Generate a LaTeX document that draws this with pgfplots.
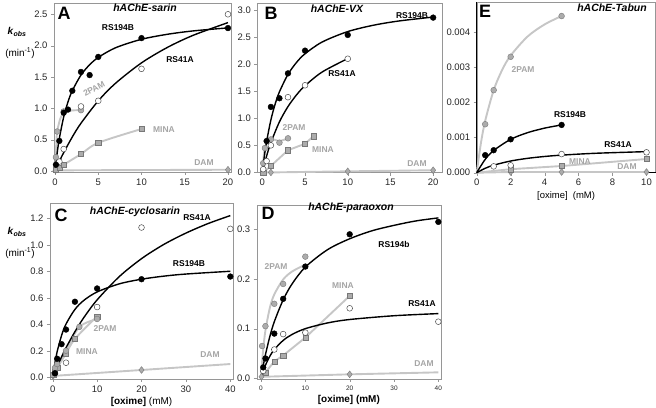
\documentclass[border=0pt]{standalone}
\usepackage{fontspec}
\setmainfont{Liberation Sans}
\usepackage{pgfplots}
\pgfplotsset{compat=1.18}
\definecolor{lgray}{RGB}{198,198,198}
\definecolor{mgray}{RGB}{172,172,172}
\definecolor{dgray}{RGB}{120,120,120}
\definecolor{tgray}{RGB}{165,165,165}
\definecolor{fgray}{RGB}{150,150,150}
\pgfplotsset{
  panel/.style={scale only axis, clip=false, axis line style={fgray},
    tick align=outside, major tick length=3bp, tick style={fgray},
    xtick pos=bottom, ytick pos=left,
    tick label style={font=\fontsize{9.5}{10}\selectfont, text=black!85},
    /pgf/number format/assume math mode=true,
    scaled y ticks=false},
  fitline/.style={black, line width=1.4bp, smooth, mark=none},
  grayline/.style={lgray, line width=1.9bp, mark=none},
  filled/.style={only marks, mark=*, mark size=2.9bp, mark options={fill=black, draw=black}},
  open/.style={only marks, mark=*, mark size=2.9bp, mark options={fill=white, draw=black!70, line width=0.5bp}},
  graycirc/.style={only marks, mark=*, mark size=2.9bp, mark options={fill=mgray, draw=dgray, line width=0.4bp}},
  graysq/.style={only marks, mark=square*, mark size=2.6bp, mark options={fill=mgray, draw=dgray, line width=0.4bp}},
  graydia/.style={only marks, mark=diamond*, mark size=3.4bp, mark options={fill=mgray, draw=dgray, line width=0.4bp}},
}
\tikzset{
  blab/.style={font=\fontsize{8.5}{9}\selectfont\bfseries, text=black},
  glab/.style={font=\fontsize{8.5}{9}\selectfont\bfseries, text=tgray},
  ttl/.style={font=\fontsize{10.5}{11}\selectfont\bfseries\itshape},
  let/.style={font=\fontsize{18}{18}\selectfont\bfseries},
}
\begin{document}
\begin{tikzpicture}
\path[use as bounding box] (0bp,0bp) rectangle (656bp,408bp);

% ---------------- Panel A: sarin ----------------
\begin{axis}[panel, at={(54bp,236bp)}, anchor=south west, width=177bp, height=169bp,
  xmin=-0.12, xmax=20.35, ymin=-0.016, ymax=2.68,
  xtick={0,5,10,15,20}, ytick={0,0.5,1,1.5,2,2.5},
  yticklabel style={/pgf/number format/.cd, fixed, fixed zerofill, precision=1}]
\addplot[grayline] coordinates {(0,0.01) (20,0.02)};
\addplot[grayline, smooth] coordinates {(0.1,0.22) (0.25,0.63) (1,0.93) (3,0.97)};
\addplot[grayline, smooth] coordinates {(0.1,0.02) (0.5,0.05) (1,0.1) (3,0.27) (5,0.45) (10,0.67)};
\addplot[graydia] coordinates {(0.05,0.01) (20,0.02)};
\addplot[graysq] coordinates {(0.1,0.02) (0.5,0.05) (1,0.1) (3,0.27) (5,0.45) (10,0.67)};
\addplot[graycirc] coordinates {(0.1,0.22) (0.25,0.63) (1,0.95) (3,0.97)};
\addplot[fitline] coordinates {(0,0) (0.5,0.153) (1,0.293) (2,0.544) (3,0.762) (5,1.119) (7,1.400) (10,1.725) (13,1.972) (16,2.166) (20,2.367)};
\addplot[fitline] coordinates {(0,0) (0.25,0.291) (0.5,0.521) (1,0.862) (1.5,1.103) (2,1.282) (3,1.531) (4,1.695) (5,1.812) (7,1.966) (10,2.101) (13,2.181) (16,2.235) (20,2.283)};
\addplot[open] coordinates {(0.5,0.15) (1,0.35) (3,1.03) (5,1.12) (10,1.63) (20,2.5)};
\addplot[filled] coordinates {(0.1,0.1) (0.5,0.48) (1,0.93) (1.5,0.98) (2,1.28) (3,1.58) (4,1.53) (5,1.82) (10,2.12) (20,2.28)};
\end{axis}

% ---------------- Panel B: VX ----------------
\begin{axis}[panel, at={(257.3bp,235.3bp)}, anchor=south west, width=184.4bp, height=169.7bp,
  xmin=-0.59, xmax=21.0, ymin=-0.005, ymax=3.13,
  xtick={0,5,10,15,20}, ytick={0,0.5,1,1.5,2,2.5,3},
  yticklabel style={/pgf/number format/.cd, fixed, fixed zerofill, precision=1}]
\addplot[grayline] coordinates {(0.1,0.0) (1,0.0) (10,0.02) (20,0.04)};
\addplot[grayline, smooth] coordinates {(0.1,0.17) (0.3,0.45) (1,0.61) (2,0.58) (3,0.63)};
\addplot[grayline] coordinates {(0.1,0.0) (1,0.12) (3,0.41) (5,0.53) (6,0.67)};
\addplot[graydia] coordinates {(0.1,0.0) (1,0.0) (10,0.02) (20,0.04)};
\addplot[graysq] coordinates {(0.1,0.0) (1,0.12) (3,0.41) (5,0.53) (6,0.67)};
\addplot[graycirc] coordinates {(0.1,0.17) (0.3,0.45) (1,0.61) (2,0.55) (3,0.63)};
\addplot[fitline] coordinates {(0,0) (0.5,0.303) (1,0.551) (2,0.934) (3,1.216) (4,1.432) (5,1.602) (7,1.855) (10,2.103)};
\addplot[fitline] coordinates {(0,0) (0.25,0.314) (0.5,0.571) (1,0.970) (1.5,1.263) (2,1.488) (3,1.811) (4,2.032) (5,2.192) (7,2.409) (10,2.602) (13,2.719) (16,2.798) (20,2.870)};
\addplot[open] coordinates {(0.1,0.06) (0.5,0.21) (1,0.5) (3,1.39) (5,1.61) (10,2.1)};
\addplot[filled] coordinates {(0.5,0.58) (1,1.21) (2,1.37) (3,1.83) (5,2.25) (10,2.54) (20,2.86)};
\end{axis}

% ---------------- Panel E: Tabun ----------------
\begin{axis}[panel, at={(476.7bp,235.3bp)}, anchor=south west, width=178.8bp, height=170.7bp,
  xmin=0, xmax=10.53, ymin=0, ymax=0.00486,
  xtick={0,2,4,6,8,10}, ytick={0,0.001,0.002,0.003,0.004},
  yticklabel style={/pgf/number format/.cd, fixed, fixed zerofill, precision=3},
  xlabel={[oxime]\ \ (mM)},
  xlabel style={at={(axis description cs:0.5,0)}, anchor=north, yshift=-15bp, font=\fontsize{9.5}{10}\selectfont}]
\draw[black, line width=0.6bp] (rel axis cs:0,1) -- (rel axis cs:0,0) -- (rel axis cs:1,0);
\addplot[grayline] coordinates {(0,0) (2,0.00002) (5,0.00002) (10,0.00002)};
\addplot[grayline] coordinates {(0,0) (2,0.0001) (5,0.00019) (10,0.00039)};
\addplot[grayline, smooth] coordinates {(0,0) (0.25,0.000847) (0.5,0.001477) (1,0.00235) (1.5,0.002927) (2,0.003336) (3,0.003879) (4,0.004222) (5,0.00446)};
\addplot[graydia] coordinates {(2,0.00002) (5,0.00002) (10,0.00002)};
\addplot[graysq] coordinates {(2,0.0001) (5,0.00019) (10,0.00039)};
\addplot[graycirc] coordinates {(0.5,0.00138) (1,0.00235) (2,0.0033) (5,0.00446)};
\addplot[fitline] coordinates {(0,0) (0.5,0.000125) (1,0.000214) (2,0.000333) (3,0.000409) (4,0.000462) (5,0.0005) (7,0.000553) (10,0.0006)};
\addplot[fitline] coordinates {(0,0) (0.5,0.000379) (1,0.000632) (2,0.00095) (3,0.001141) (4,0.001269) (5,0.00136)};
\addplot[open] coordinates {(1,0.00018) (2,0.00021) (5,0.00053) (10,0.00058)};
\addplot[filled] coordinates {(0.5,0.0005) (1,0.00064) (2,0.00095) (5,0.00136)};
\end{axis}

% ---------------- Panel C: cyclosarin ----------------
\begin{axis}[panel, at={(50bp,29bp)}, anchor=south west, width=183bp, height=176bp,
  xmin=-0.61, xmax=40.6, ymin=-0.013, ymax=1.315,
  xtick={0,10,20,30,40}, ytick={0,0.2,0.4,0.6,0.8,1.0,1.2},
  yticklabel style={/pgf/number format/.cd, fixed, fixed zerofill, precision=1},
  xlabel={\textbf{[oxime]} (mM)},
  xlabel style={at={(axis description cs:0.5,0)}, anchor=north, yshift=-15bp, font=\fontsize{10}{10}\selectfont}]
\addplot[grayline] coordinates {(0,0.01) (20,0.055) (40,0.1)};
\addplot[grayline, smooth] coordinates {(0.1,0.02) (0.5,0.04) (1,0.07) (3,0.18) (5,0.29) (10,0.46)};
\addplot[grayline, smooth] coordinates {(0.1,0.02) (0.5,0.07) (1,0.1) (3,0.2) (6,0.38) (10,0.44)};
\addplot[graydia] coordinates {(0.1,0.01) (20,0.055)};
\addplot[graysq] coordinates {(0.1,0.02) (0.5,0.04) (1,0.07) (3,0.18) (5,0.29) (10,0.46)};
\addplot[graycirc] coordinates {(0.5,0.07) (1,0.1) (3,0.2) (6,0.38) (10,0.44)};
\addplot[fitline] coordinates {(0,0) (1,0.080) (2,0.154) (3,0.223) (5,0.344) (7,0.450) (10,0.584) (15,0.760) (20,0.895) (25,1.002) (30,1.088) (35,1.160) (40,1.220)};
\addplot[fitline] coordinates {(0,0) (0.5,0.109) (1,0.193) (2,0.316) (3,0.402) (5,0.512) (7,0.58) (10,0.644) (15,0.705) (20,0.740) (25,0.763) (30,0.779) (40,0.80)};
\addplot[open] coordinates {(0.5,0.03) (3,0.11) (10,0.53) (20,1.13) (40,1.12)};
\addplot[filled] coordinates {(0.5,0.03) (1,0.14) (2,0.25) (3,0.36) (5,0.57) (10,0.67) (20,0.74) (40,0.76)};
\end{axis}

% ---------------- Panel D: paraoxon ----------------
\begin{axis}[panel, at={(256.7bp,29bp)}, anchor=south west, width=184.3bp, height=174bp,
  xmin=-0.97, xmax=40.6, ymin=-0.0014, ymax=0.349,
  xtick={0,10,20,30,40}, ytick={0,0.1,0.2,0.3},
  xticklabel style={font=\fontsize{6.5}{7}\selectfont},
  yticklabel style={/pgf/number format/.cd, fixed, fixed zerofill, precision=1},
  xlabel={\textbf{[oxime] (mM)}},
  xlabel style={at={(axis description cs:0.5,0)}, anchor=north, yshift=-13bp, font=\fontsize{10}{10}\selectfont}]
\addplot[grayline] coordinates {(0,0.003) (20,0.008) (40,0.012)};
\addplot[grayline] coordinates {(0.5,0.005) (1,0.012) (3,0.034) (5,0.046) (10,0.082) (20,0.166)};
\addplot[grayline, smooth] coordinates {(0,0) (0.25,0.0329) (0.5,0.0587) (1,0.0964) (2,0.142) (3,0.169) (5,0.199) (7,0.215) (10,0.229)};
\addplot[graydia] coordinates {(0.1,0.003) (20,0.008)};
\addplot[graysq] coordinates {(1,0.012) (3,0.034) (5,0.046) (10,0.082) (20,0.166)};
\addplot[graycirc] coordinates {(0.25,0.065) (1,0.105) (3,0.15) (5,0.19) (10,0.245)};
\addplot[fitline] coordinates {(0,0) (0.5,0.0145) (1,0.0264) (2,0.0446) (3,0.058) (5,0.0763) (7,0.0883) (10,0.1) (15,0.1115) (20,0.1184) (30,0.126) (40,0.1303)};
\addplot[fitline] coordinates {(0,0) (0.5,0.0253) (1,0.0475) (2,0.0844) (3,0.114) (5,0.158) (7,0.19) (10,0.224) (15,0.259) (20,0.281) (25,0.297) (30,0.308) (35,0.317) (40,0.323)};
\addplot[open] coordinates {(0.5,0.015) (3,0.058) (5,0.089) (10,0.092) (20,0.141) (40,0.114)};
\addplot[filled] coordinates {(0.5,0.022) (1,0.04) (3,0.09) (5,0.16) (10,0.225) (20,0.29) (40,0.315)};
\end{axis}

% ---------------- texts ----------------
\node[let] at (64bp,395bp) {A};
\node[let] at (271bp,395bp) {B};
\node[let] at (485bp,397bp) {E};
\node[let] at (61bp,193bp) {C};
\node[let] at (268bp,195bp) {D};
\node[ttl] at (145bp,400bp) {hAChE-sarin};
\node[ttl] at (337bp,399bp) {hAChE-VX};
\node[ttl] at (612bp,400bp) {hAChE-Tabun};
\node[ttl] at (135bp,196bp) {hAChE-cyclosarin};
\node[ttl] at (351bp,200bp) {hAChE-paraoxon};
% A
\node[blab] at (118bp,380bp) {RS194B};
\node[blab] at (180bp,348bp) {RS41A};
\node[glab, rotate=28] at (94bp,319bp) {2PAM};
\node[glab] at (164bp,278bp) {MINA};
\node[glab] at (204bp,245bp) {DAM};
% B
\node[blab] at (412bp,392bp) {RS194B};
\node[blab] at (342bp,334bp) {RS41A};
\node[glab] at (294bp,280bp) {2PAM};
\node[glab] at (323bp,258bp) {MINA};
\node[glab] at (417bp,244bp) {DAM};
% E
\node[glab] at (523bp,338bp) {2PAM};
\node[blab] at (570bp,293bp) {RS194B};
\node[blab] at (618bp,263bp) {RS41A};
\node[glab] at (580bp,246bp) {MINA};
\node[glab] at (627bp,241bp) {DAM};
% C
\node[blab] at (197bp,190bp) {RS41A};
\node[blab] at (189bp,144bp) {RS194B};
\node[glab] at (105bp,79bp) {2PAM};
\node[glab] at (87bp,56bp) {MINA};
\node[glab] at (210bp,53bp) {DAM};
% D
\node[blab] at (394bp,164bp) {RS194b};
\node[glab] at (276bp,141bp) {2PAM};
\node[glab] at (343bp,122bp) {MINA};
\node[blab] at (422bp,104bp) {RS41A};
\node[glab] at (424bp,44bp) {DAM};
% y labels
\node[font=\fontsize{10}{11}\selectfont\bfseries] at (17bp,376bp) {\textit{k}\textsubscript{\itshape obs}};
\node[font=\fontsize{10}{11}\selectfont] at (20bp,355bp) {(min\textsuperscript{-1})};
\node[font=\fontsize{10}{11}\selectfont\bfseries] at (17bp,176bp) {\textit{k}\textsubscript{\itshape obs}};
\node[font=\fontsize{10}{11}\selectfont] at (20bp,155bp) {(min\textsuperscript{-1})};
\end{tikzpicture}
\end{document}
